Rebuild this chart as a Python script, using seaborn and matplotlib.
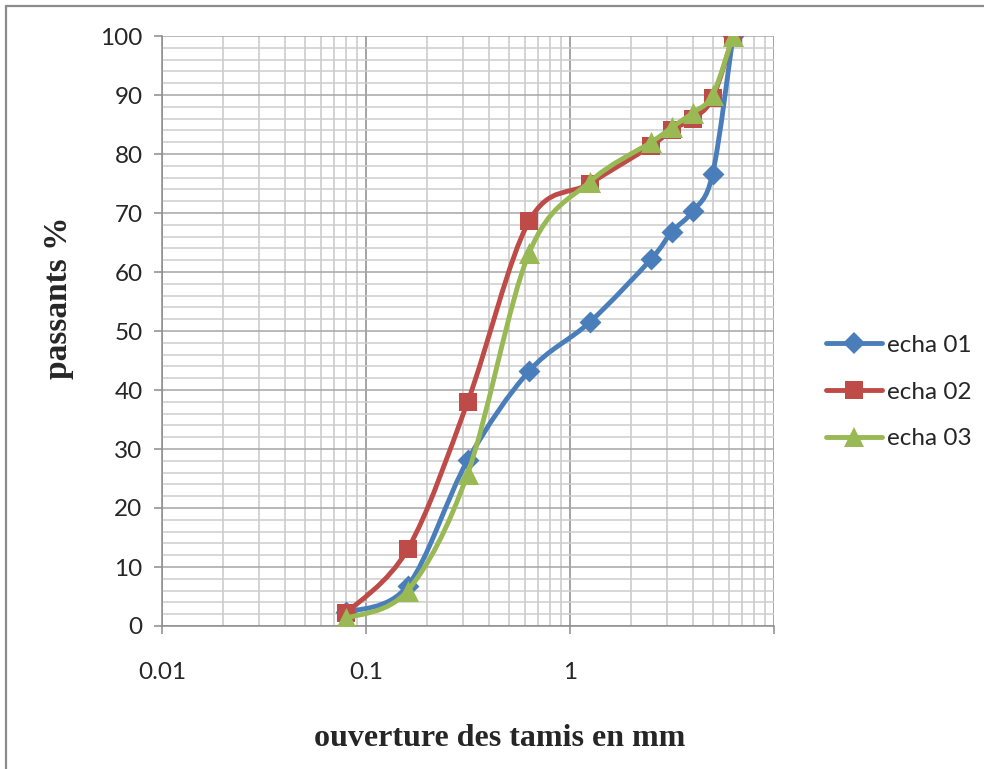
#!/usr/bin/env python3

import numpy as np
import pandas as pd
import seaborn as sns
import matplotlib.pyplot as plt
from matplotlib.path import Path
from matplotlib.patches import PathPatch
from matplotlib.lines import Line2D
from matplotlib.ticker import FixedLocator, NullFormatter

# sieve openings (mm) and passing percentages
sieves = [0.08, 0.16, 0.315, 0.63, 1.25, 2.5, 3.15, 4, 5, 6.3]
echa_01 = [2.3, 6.8, 28.1, 43.2, 51.5, 62.2, 66.8, 70.3, 76.6, 100]
echa_02 = [2.2, 13.0, 38.0, 68.6, 75.0, 81.4, 84.1, 86.0, 89.5, 100]
echa_03 = [1.3, 6.0, 25.8, 63.2, 75.3, 82.0, 84.5, 87.0, 90.0, 100]

series_names = ["echa 01", "echa 02", "echa 03"]
x_ticks = [0.01, 0.1, 1, 10]
x_ticklabels = ["0.01", "0.1", "1", ""]
y_ticks = list(range(0, 101, 10))

colors = ["#4a7ebb", "#be4b48", "#98b954"]
markers = ["D", "s", "^"]
msizes = [125, 175, 230]


def smooth_path(xs, ys):
    # Excel-like smoothed line: cubic bezier through the points, built in log-x space
    lx = np.log10(np.asarray(xs, dtype=float))
    yy = np.asarray(ys, dtype=float)
    pts = np.column_stack([lx, yy])
    n = len(pts)
    verts = [pts[0]]
    codes = [Path.MOVETO]
    for i in range(n - 1):
        p0 = pts[max(i - 1, 0)]
        p1 = pts[i]
        p2 = pts[i + 1]
        p3 = pts[min(i + 2, n - 1)]
        c1 = p1 + (p2 - p0) / 6.0
        c2 = p2 - (p3 - p1) / 6.0
        verts += [c1, c2, p2]
        codes += [Path.CURVE4] * 3
    verts = np.array(verts)
    verts[:, 0] = 10 ** verts[:, 0]
    return Path(verts, codes)


df = pd.DataFrame({
    "ouverture": sieves * 3,
    "passants": echa_01 + echa_02 + echa_03,
    "serie": [s for s in series_names for _ in sieves],
})

sns.set_theme(style="white")
plt.rcParams['font.family'] = ['Lato', 'DejaVu Sans']

fig = plt.figure(figsize=(9.84, 7.69), dpi=100)
ax = fig.add_axes([162 / 984, 1 - 626 / 769, 612 / 984, 590 / 769])
ax.set_xscale("log")
ax.set_xlim(0.01, 10)
ax.set_ylim(0, 100)

# grid
ax.xaxis.set_minor_locator(FixedLocator([m * 10.0 ** e for e in range(-2, 1) for m in range(2, 10)]))
ax.xaxis.set_minor_formatter(NullFormatter())
ax.yaxis.set_minor_locator(FixedLocator([v for v in range(0, 101, 2) if v % 10]))
ax.grid(which="minor", axis="x", color="#c8c8c8", lw=1.1)
ax.grid(which="minor", axis="y", color="#cdcdcd", lw=1.1)
ax.grid(which="major", axis="x", color="#8c8c8c", lw=1.1)
ax.grid(which="major", axis="y", color="#a6a6a6", lw=1.1)
ax.set_axisbelow(True)

for i, name in enumerate(series_names):
    sub = df[df.serie == name]
    patch = PathPatch(smooth_path(sub.ouverture, sub.passants), fill=False,
                      edgecolor=colors[i], lw=3.5, capstyle="round",
                      joinstyle="round", zorder=3 + 2 * i)
    ax.add_patch(patch)
    sns.scatterplot(data=sub, x="ouverture", y="passants", ax=ax,
                    color=colors[i], marker=markers[i], s=msizes[i],
                    linewidth=0, zorder=4 + 2 * i, legend=False)

ax.set_xticks(x_ticks)
ax.set_xticklabels(x_ticklabels)
ax.set_yticks(y_ticks)
ax.tick_params(axis="both", which="major", labelsize=17.5, length=6, width=1.1,
               color="#8c8c8c", direction="out", pad=20, left=True, bottom=True)
ax.tick_params(axis="y", pad=8)
ax.tick_params(which="minor", length=0)
for sp in ["top", "right"]:
    ax.spines[sp].set_visible(False)
for sp in ["left", "bottom"]:
    ax.spines[sp].set_color("#8c8c8c")
    ax.spines[sp].set_linewidth(1.1)

ax.set_xlabel("ouverture des tamis en mm", family="Liberation Serif",
              fontweight="bold", fontsize=23)
ax.xaxis.set_label_coords((500 - 162) / 612, (626 - 724) / 590)
ax.set_ylabel("passants %", family="Liberation Serif", fontweight="bold",
              fontsize=24)
ax.yaxis.set_label_coords((74 - 162) / 612, (626 - 298) / 590)

handles = [Line2D([], [], color=colors[i], lw=3.5, marker=markers[i],
                  markersize=[11, 12.5, 14][i], markeredgewidth=0,
                  solid_capstyle="round")
           for i in range(3)]
fig.legend(handles, series_names, loc="center left",
           bbox_to_anchor=(826 / 984, 1 - 392 / 769), frameon=False,
           fontsize=17.5, handlelength=2.3, handletextpad=0.2,
           labelspacing=1.05, borderpad=0, borderaxespad=0)

# outer chart frame (left and top edges)
fig.add_artist(Line2D([6 / 984, 6 / 984], [0, 1 - 6 / 769], color="#8c8c8c", lw=1.6))
fig.add_artist(Line2D([6 / 984, 1], [1 - 6 / 769, 1 - 6 / 769], color="#8c8c8c", lw=1.6))

fig.savefig("out.png", dpi=100)
